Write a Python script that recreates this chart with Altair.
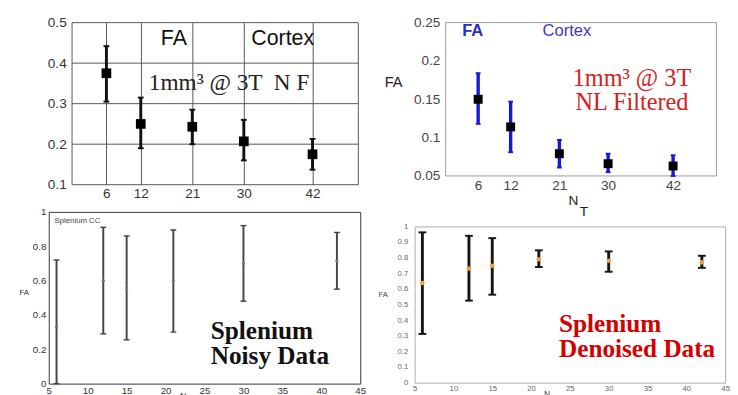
import altair as alt
import pandas as pd

# ---------------- data ----------------
# Cortex FA, 1mm^3 @ 3T, not filtered (top-left)
nt_cortex = [6, 12, 21, 30, 42]
fa_nf_mean = [0.375, 0.250, 0.243, 0.207, 0.175]
fa_nf_low = [0.305, 0.190, 0.200, 0.160, 0.137]
fa_nf_high = [0.442, 0.315, 0.285, 0.260, 0.213]

# Cortex FA, NL filtered (top-right)
fa_nl_mean = [0.150, 0.114, 0.079, 0.066, 0.063]
fa_nl_low = [0.118, 0.081, 0.061, 0.055, 0.050]
fa_nl_high = [0.184, 0.147, 0.097, 0.079, 0.077]

# Splenium CC, noisy data (bottom-left)
nt_splen = [6, 12, 15, 21, 30, 42]
fa_noisy_mean = [0.330, 0.600, 0.555, 0.600, 0.700, 0.715]
fa_noisy_low = [0.000, 0.290, 0.255, 0.300, 0.480, 0.550]
fa_noisy_high = [0.720, 0.910, 0.860, 0.895, 0.920, 0.880]

# Splenium CC, denoised data (bottom-right)
fa_dn_mean = [0.638, 0.730, 0.748, 0.790, 0.780, 0.770]
fa_dn_low = [0.312, 0.525, 0.563, 0.740, 0.710, 0.735]
fa_dn_high = [0.962, 0.940, 0.925, 0.847, 0.840, 0.812]

# axis tick values
cortex_xticks = [6, 12, 21, 30, 42]
nf_yticks = [0.1, 0.2, 0.3, 0.4, 0.5]
nf_grid_y = [0.2, 0.3, 0.4]
nl_yticks = [0.05, 0.1, 0.15, 0.2, 0.25]
splen_xticks = [5, 10, 15, 20, 25, 30, 35, 40, 45]
noisy_yticks = [0, 0.2, 0.4, 0.6, 0.8, 1]
dn_yticks = [0, 0.1, 0.2, 0.3, 0.4, 0.5, 0.6, 0.7, 0.8, 0.9, 1]

SANS = "Liberation Sans"
SERIF = "Liberation Serif"


def frame(nt, mean, low, high):
    return pd.DataFrame({"nt": nt, "mean": mean, "low": low, "high": high})


def note(text, x, y, **style):
    d = pd.DataFrame({"t": [text]})
    return alt.Chart(d).mark_text(**style).encode(
        x=alt.datum(x), y=alt.datum(y), text="t:N"
    )


def box(x0, x1, y0, y1, color):
    d = pd.DataFrame({"b": [0]})
    return alt.Chart(d).mark_rect(fillOpacity=0, stroke=color, strokeWidth=1).encode(
        x=alt.datum(x0), x2=alt.datum(x1), y=alt.datum(y0), y2=alt.datum(y1))


def errbars(df, xenc, yscale, yaxis, bar_color, bar_w, cap_w, cap_t):
    base = alt.Chart(df).encode(x=xenc)
    rule = base.mark_rule(color=bar_color, strokeWidth=bar_w).encode(
        y=alt.Y("low:Q", scale=yscale, axis=yaxis), y2="high:Q"
    )
    cap_lo = base.mark_tick(orient="horizontal", color=bar_color, size=cap_w,
                            thickness=cap_t, opacity=1).encode(y=alt.Y("low:Q"))
    cap_hi = base.mark_tick(orient="horizontal", color=bar_color, size=cap_w,
                            thickness=cap_t, opacity=1).encode(y=alt.Y("high:Q"))
    return base, [rule, cap_lo, cap_hi]


# ---------------- panel 1: FA cortex, not filtered ----------------
df1 = frame(nt_cortex, fa_nf_mean, fa_nf_low, fa_nf_high)
x1 = alt.X("nt:Q", scale=alt.Scale(domain=[-4.07, 50], nice=False, zero=False),
           axis=alt.Axis(values=cortex_xticks, tickCount=len(cortex_xticks),
                         grid=True, gridColor="#555",
                         gridWidth=1, gridOpacity=1, domain=False, ticks=False,
                         labelFontSize=14, labelColor="#333", labelPadding=2,
                         labelFlush=False, labelOverlap=False, minExtent=21,
                         title=None))
ys1 = alt.Scale(domain=[0.1, 0.5], nice=False, zero=False)
ya1 = alt.Axis(values=nf_yticks, tickCount=len(nf_yticks), format=".1f", grid=False,
               domain=False, ticks=False, offset=-24, labelPadding=6, labelFontSize=14,
               labelColor="#333", labelOverlap=False, title=None)
base1, bars1 = errbars(df1, x1, ys1, ya1, "#111", 3, 6, 2)
sq1 = base1.mark_square(size=100, color="#000", opacity=1).encode(y="mean:Q")
hgrid1 = alt.Chart(pd.DataFrame({"g": nf_grid_y})).mark_rule(
    color="#555", strokeWidth=1).encode(y="g:Q", x=alt.datum(0), x2=alt.datum(50))
p1 = alt.layer(
    box(0, 50, 0.1, 0.5, "#555"), hgrid1, *bars1, sq1,
    note("FA", 15.5, 0.462, font=SANS, fontSize=22, align="left", color="#111"),
    note("Cortex", 31.3, 0.462, font=SANS, fontSize=22, align="left", color="#111"),
    note("1mm³ @ 3T \u00a0N F", 13.4, 0.351, font=SERIF, fontSize=24,
         align="left", color="#222"),
).properties(width=319, height=167, view=alt.ViewBackground(stroke="transparent"))

# ---------------- panel 2: FA cortex, NL filtered ----------------
df2 = frame(nt_cortex, fa_nl_mean, fa_nl_low, fa_nl_high)
x2 = alt.X("nt:Q", scale=alt.Scale(domain=[-5.735, 50], nice=False, zero=False),
           axis=alt.Axis(values=cortex_xticks, tickCount=len(cortex_xticks),
                         grid=False, domain=False, ticks=False,
                         labelFontSize=14, labelColor="#444", labelPadding=3,
                         labelFlush=False, labelOverlap=False,
                         title=["N", "\u200b\u00a0\u00a0\u00a0T"], titleFontSize=14,
                         titleFontWeight="normal", titleColor="#222",
                         titleAlign="left", titleBaseline="top",
                         titleX=158, titleY=18, titleLineHeight=12))
ys2 = alt.Scale(domain=[0.05, 0.25], nice=False, zero=False)
ya2 = alt.Axis(values=nl_yticks, tickCount=len(nl_yticks), format="~g", grid=False,
               domain=False, ticks=False,
               offset=-32, labelPadding=6, labelFontSize=14, labelColor="#444",
               labelOverlap=False,
               title="FA", titleAngle=0, titleAlign="right", titleBaseline="middle",
               titleX=-45, titleY=61, titleFontSize=15, titleFontWeight="normal",
               titleColor="#222")
base2, bars2 = errbars(df2, x2, ys2, ya2, "#1818d8", 3.5, 5, 2)
sq2 = base2.mark_square(size=85, color="#000", opacity=1).encode(y="mean:Q")
p2 = alt.layer(
    box(0, 50, 0.05, 0.25, "#999"), *bars2, sq2,
    note("FA", 3.05, 0.2386, font=SANS, fontSize=17, fontWeight="bold",
         align="left", color="#2a2ac8"),
    note("Cortex", 17.9, 0.2386, font=SANS, fontSize=17, align="left", color="#3a3ac0"),
    note("1mm³ @ 3T", 34.4, 0.178, font=SERIF, fontSize=25, align="center",
         color="#d42020"),
    note("NL Filtered", 34.4, 0.146, font=SERIF, fontSize=25, align="center",
         color="#d42020"),
).properties(width=311, height=158, view=alt.ViewBackground(stroke="transparent"))

# ---------------- panel 3: splenium noisy ----------------
df3 = frame(nt_splen, fa_noisy_mean, fa_noisy_low, fa_noisy_high)
x3 = alt.X("nt:Q", scale=alt.Scale(domain=[5, 45], nice=False, zero=False),
           axis=alt.Axis(values=splen_xticks, tickCount=len(splen_xticks),
                         grid=False, domain=False, ticks=False,
                         labelFontSize=10, labelColor="#333", labelPadding=2,
                         labelFlush=False, labelOverlap=False,
                         title="N", titleX=138, titleY=8,
                         titleBaseline="top", titleFontSize=9,
                         titleFontWeight="normal", titleColor="#333"))
ys3 = alt.Scale(domain=[0, 1], nice=False, zero=False)
ya3 = alt.Axis(values=noisy_yticks, tickCount=len(noisy_yticks), format="~g",
               grid=False, domain=False, ticks=False,
               labelPadding=3, labelFontSize=10, labelColor="#333", labelOverlap=False,
               title="FA", titleAngle=0, titleAlign="right", titleBaseline="middle",
               titleX=-21, titleY=83, titleFontSize=8, titleFontWeight="normal",
               titleColor="#333")
base3, bars3 = errbars(df3, x3, ys3, ya3, "#444", 2, 6, 1.5)
pt3 = base3.mark_circle(size=12, color="#777", opacity=1).encode(y="mean:Q")
p3 = alt.layer(
    *bars3, pt3,
    note("Splenium CC", 5.75, 0.949, font=SANS, fontSize=8, align="left", color="#444"),
    note("Splenium", 25.8, 0.305, font=SERIF, fontSize=26, fontWeight="bold",
         align="left", color="#111"),
    note("Noisy Data", 25.8, 0.158, font=SERIF, fontSize=26, fontWeight="bold",
         align="left", color="#111"),
).properties(width=321, height=177, view=alt.ViewBackground(stroke="#333"))

# ---------------- panel 4: splenium denoised ----------------
df4 = frame(nt_splen, fa_dn_mean, fa_dn_low, fa_dn_high)
x4 = alt.X("nt:Q", scale=alt.Scale(domain=[5, 45], nice=False, zero=False),
           axis=alt.Axis(values=splen_xticks, tickCount=len(splen_xticks),
                         grid=False, domain=False, ticks=False,
                         labelFontSize=8, labelColor="#666", labelPadding=2,
                         labelFlush=False, labelOverlap=False,
                         title="N", titleX=136, titleY=7,
                         titleBaseline="top", titleFontSize=9,
                         titleFontWeight="normal", titleColor="#444"))
ys4 = alt.Scale(domain=[0, 1], nice=False, zero=False)
ya4 = alt.Axis(values=dn_yticks, tickCount=len(dn_yticks), format="~g", grid=False,
               domain=False, ticks=False,
               labelPadding=7, labelFontSize=8, labelColor="#666", minExtent=48,
               labelOverlap=False,
               title="FA", titleAngle=0, titleAlign="right", titleBaseline="middle",
               titleX=-28, titleY=70, titleFontSize=8, titleFontWeight="normal",
               titleColor="#444")
base4, bars4 = errbars(df4, x4, ys4, ya4, "#151515", 3, 8, 2)
pt4 = base4.mark_circle(size=22, color="#e8a33a", opacity=1).encode(y="mean:Q")
p4 = alt.layer(
    *bars4, pt4,
    note("Splenium", 23.6, 0.375, font=SERIF, fontSize=26, fontWeight="bold",
         align="left", color="#d40000"),
    note("Denoised Data", 23.6, 0.215, font=SERIF, fontSize=26, fontWeight="bold",
         align="left", color="#d40000"),
).properties(width=320, height=161, view=alt.ViewBackground(stroke="#aaa"))

left_col = alt.vconcat(p1, p3, spacing=0)
right_col = alt.vconcat(p2, p4, spacing=2)
chart = alt.hconcat(left_col, right_col, spacing=0).properties(
    padding={"left": 10, "top": 1, "right": 0, "bottom": 0}
).configure_axis(labelFont=SANS, titleFont=SANS)

chart.save("out.html", embed_options={"renderer": "svg", "actions": False})
